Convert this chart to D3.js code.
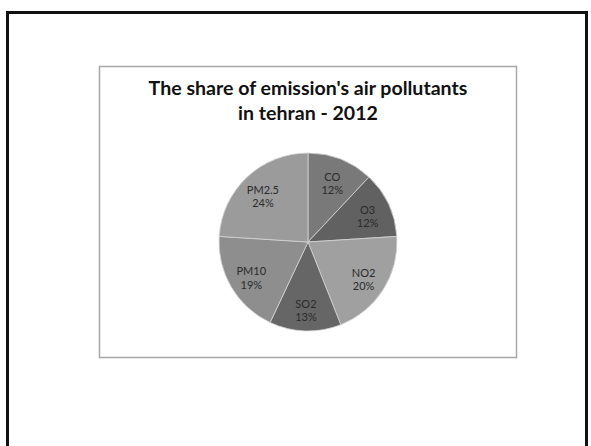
<!DOCTYPE html>
<html>
<head>
<meta charset="utf-8">
<script src="https://cdn.jsdelivr.net/npm/d3@7"></script>
<style>
  html, body { margin: 0; padding: 0; background: #fff; }
  svg { display: block; }
</style>
</head>
<body>
<svg id="chart" width="591" height="446"></svg>
<script>
// ---- data ----
const categories = ["CO", "O3", "NO2", "SO2", "PM10", "PM2.5"];
const shares = [12, 12, 20, 13, 19, 24];
const sliceColors = ["#797979", "#616161", "#a0a0a0", "#666666", "#8e8e8e", "#9b9b9b"];
const titleLines = ["The share of emission's air pollutants", "in tehran - 2012"];

const svg = d3.select("#chart");

// outer frame
svg.append("rect")
  .attr("x", 7.5).attr("y", 12.5)
  .attr("width", 579).attr("height", 450)
  .attr("fill", "none").attr("stroke", "#111").attr("stroke-width", 3);

// chart box
svg.append("rect")
  .attr("x", 99.5).attr("y", 66.5)
  .attr("width", 417).attr("height", 291)
  .attr("fill", "#fff").attr("stroke", "#a8a8a8").attr("stroke-width", 1.5);

const cx = 308, cy = 242, R = 89;

// title
const titleFont = "Lato, 'Open Sans', sans-serif";
const targetW = 319;
const t1 = svg.append("text")
  .attr("x", cx).attr("y", 95)
  .attr("text-anchor", "middle")
  .attr("font-family", titleFont).attr("font-weight", "bold")
  .attr("font-size", 20).attr("fill", "#111")
  .text(titleLines[0]);
const fs = 20 * targetW / t1.node().getComputedTextLength();
t1.attr("font-size", fs);
svg.append("text")
  .attr("x", cx).attr("y", 120)
  .attr("text-anchor", "middle")
  .attr("font-family", titleFont).attr("font-weight", "bold")
  .attr("font-size", fs).attr("fill", "#111")
  .text(titleLines[1]);

// pie
const data = categories.map((c, i) => ({ name: c, value: shares[i], color: sliceColors[i] }));
const pie = d3.pie().value(d => d.value).sort(null);
const arc = d3.arc().innerRadius(0).outerRadius(R);
const labelArc = d3.arc().innerRadius(R * 0.74).outerRadius(R * 0.74);

const g = svg.append("g").attr("transform", `translate(${cx},${cy})`);
const arcs = pie(data);
g.selectAll("path.slice").data(arcs).enter().append("path")
  .attr("class", "slice")
  .attr("d", arc)
  .attr("fill", d => d.data.color)
  .attr("stroke", "#d4d4d4").attr("stroke-width", 0.8);

const total = d3.sum(shares);
const lbl = g.selectAll("text.lbl").data(arcs).enter().append("text")
  .attr("class", "lbl")
  .attr("transform", d => { const c = labelArc.centroid(d); return `translate(${c[0]},${c[1] + 2})`; })
  .attr("text-anchor", "middle")
  .attr("font-family", "Lato, 'Open Sans', sans-serif")
  .attr("font-size", 11).attr("fill", "#2b2b2b");
lbl.append("tspan").attr("x", 0).attr("dy", "-0.2em").text(d => d.data.name);
lbl.append("tspan").attr("x", 0).attr("dy", "1.2em")
  .text(d => Math.round(d.data.value / total * 100) + "%");
</script>
</body>
</html>
